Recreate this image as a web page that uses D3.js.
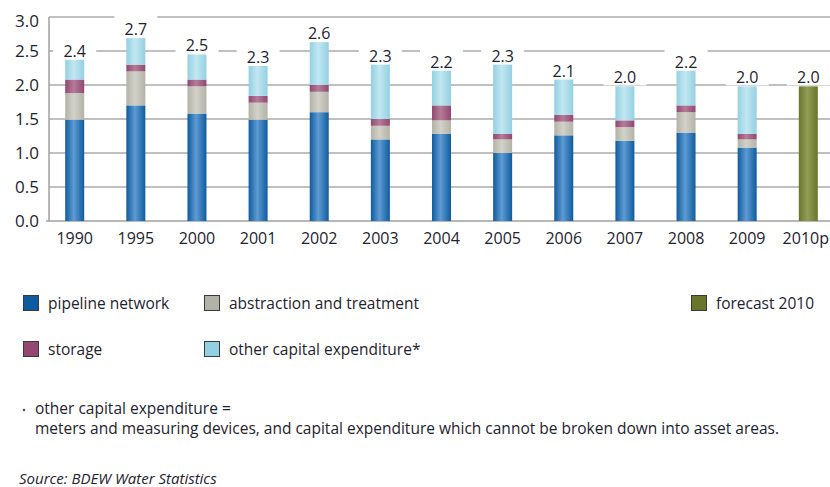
<!DOCTYPE html>
<html>
<head>
<meta charset="utf-8">
<title>Capital expenditure</title>
<script src="https://d3js.org/d3.v7.min.js"></script>
<style>
  body { margin: 0; background: #fff; }
  text { font-family: "Open Sans", sans-serif; fill: #1e2330; }
</style>
</head>
<body>
<svg id="chart" width="830" height="487"></svg>
<script>
// data (bn EUR)
var years = ["1990","1995","2000","2001","2002","2003","2004","2005","2006","2007","2008","2009","2010p"];
var pipeline    = [1.49, 1.70, 1.58, 1.49, 1.60, 1.20, 1.28, 1.00, 1.26, 1.18, 1.30, 1.08, 0];
var abstraction = [0.39, 0.50, 0.40, 0.25, 0.30, 0.20, 0.20, 0.20, 0.20, 0.20, 0.30, 0.12, 0];
var storage     = [0.20, 0.10, 0.10, 0.10, 0.10, 0.10, 0.22, 0.08, 0.10, 0.10, 0.10, 0.08, 0];
var other       = [0.29, 0.39, 0.37, 0.44, 0.63, 0.80, 0.51, 1.02, 0.52, 0.50, 0.51, 0.70, 0];
var forecast    = [0, 0, 0, 0, 0, 0, 0, 0, 0, 0, 0, 0, 1.98];
var totalLabels = ["2.4","2.7","2.5","2.3","2.6","2.3","2.2","2.3","2.1","2.0","2.2","2.0","2.0"];
var yTicks = [0, 0.5, 1, 1.5, 2, 2.5, 3];

var seriesNames = ["pipeline network", "abstraction and treatment", "storage", "other capital expenditure*", "forecast 2010"];
var seriesKeys = ["pipeline", "abstraction", "storage", "other", "forecast"];
var colors = {
  pipeline:    ["#0f5b9f", "#5e9bd2"],
  abstraction: ["#b3b2a6", "#d3d2ca"],
  storage:     ["#924870", "#b47c98"],
  other:       ["#93d0e2", "#c2e7f1"],
  forecast:    ["#68752b", "#929e58"]
};

var svg = d3.select("#chart");

var x = d3.scalePoint().domain(years).range([74.7, 808.3]);
var y = d3.scaleLinear().domain([0, 3]).range([221, 17]);
var barW = 19;

// cylinder-ish gradients
var defs = svg.append("defs");
seriesKeys.forEach(function(k) {
  var g = defs.append("linearGradient").attr("id", "g-" + k)
    .attr("x1", "0%").attr("x2", "100%").attr("y1", "0%").attr("y2", "0%");
  g.append("stop").attr("offset", "0%").attr("stop-color", colors[k][0]);
  g.append("stop").attr("offset", "45%").attr("stop-color", colors[k][1]);
  g.append("stop").attr("offset", "100%").attr("stop-color", colors[k][0]);
});

var rows = years.map(function(yr, i) {
  return { year: yr, pipeline: pipeline[i], abstraction: abstraction[i], storage: storage[i],
           other: other[i], forecast: forecast[i], label: totalLabels[i] };
});

// gridlines
svg.append("g").selectAll("line")
  .data(yTicks.slice(1))
  .enter().append("line")
    .attr("x1", 49).attr("x2", 830)
    .attr("y1", function(d) { return y(d); })
    .attr("y2", function(d) { return y(d); })
    .attr("stroke", "#ababab").attr("stroke-width", 1.3);

// axis lines
svg.append("line").attr("x1", 49).attr("x2", 49).attr("y1", y(3)).attr("y2", y(0))
  .attr("stroke", "#a0a0a0").attr("stroke-width", 1.5);
svg.append("line").attr("x1", 46).attr("x2", 830).attr("y1", y(0)).attr("y2", y(0))
  .attr("stroke", "#a0a0a0").attr("stroke-width", 1.5);

// y tick labels
svg.append("g").selectAll("text")
  .data(yTicks)
  .enter().append("text")
    .attr("x", 39)
    .attr("y", function(d) { return y(d) + (d === 3 ? 4 : 0); })
    .attr("dy", "0.35em")
    .attr("text-anchor", "end")
    .style("font-size", "17px")
    .style("font-weight", 500)
    .text(function(d) { return d3.format(".1f")(d); });

// stacked bars
var stack = d3.stack().keys(seriesKeys);
var layers = stack(rows);

svg.append("g").selectAll("g")
  .data(layers)
  .enter().append("g")
    .attr("fill", function(d) { return "url(#g-" + d.key + ")"; })
  .selectAll("rect")
  .data(function(d) { return d; })
  .enter().append("rect")
    .attr("x", function(d) { return x(d.data.year) - barW / 2; })
    .attr("width", barW)
    .attr("y", function(d) { return y(d[1]); })
    .attr("height", function(d) { return y(d[0]) - y(d[1]); });

// value labels with white box behind
var totals = rows.map(function(r) { return r.pipeline + r.abstraction + r.storage + r.other + r.forecast; });
var lab = svg.append("g").selectAll("g")
  .data(rows)
  .enter().append("g");
lab.append("rect")
  .attr("x", function(d) { return x(d.year) - 21.5; })
  .attr("width", 43)
  .attr("y", function(d, i) { return y(totals[i]) - 23; })
  .attr("height", 22)
  .attr("fill", "#fff");
lab.append("text")
  .attr("x", function(d) { return x(d.year); })
  .attr("y", function(d, i) { return y(totals[i]) - 3; })
  .attr("text-anchor", "middle")
  .style("font-size", "16px")
  .style("font-weight", 500)
  .text(function(d) { return d.label; });

// x labels (last one kept inside the frame)
svg.append("g").selectAll("text")
  .data(years)
  .enter().append("text")
    .attr("x", function(d, i) { return i === years.length - 1 ? 829 : x(d); })
    .attr("y", 244)
    .attr("text-anchor", function(d, i) { return i === years.length - 1 ? "end" : "middle"; })
    .style("font-size", "16px")
    .style("font-weight", 500)
    .text(function(d) { return d; });

// legend
var legendPos = [[23, 295], [204, 295], [23, 341], [204, 341], [691, 295]];
var leg = svg.append("g").selectAll("g")
  .data(seriesKeys)
  .enter().append("g")
    .attr("transform", function(d, i) { return "translate(" + legendPos[i][0] + "," + legendPos[i][1] + ")"; });
leg.append("rect")
  .attr("x", 0.5).attr("y", 0.5).attr("width", 15).attr("height", 15)
  .attr("fill", function(d) { return colors[d][0]; })
  .attr("stroke", "#3a3a3a").attr("stroke-width", 1);
leg.append("text")
  .attr("x", 25).attr("y", 14)
  .style("font-size", "15.5px")
  .text(function(d, i) { return seriesNames[i]; });

// footnote + source
svg.append("circle").attr("cx", 24).attr("cy", 410).attr("r", 1.3).attr("fill", "#555");
svg.append("text").attr("x", 35).attr("y", 414).style("font-size", "15.5px")
  .text("other capital expenditure =");
svg.append("text").attr("x", 35).attr("y", 434).style("font-size", "15.5px")
  .text("meters and measuring devices, and capital expenditure which cannot be broken down into asset areas.");
svg.append("text").attr("x", 19).attr("y", 484).style("font-size", "15px").style("font-style", "italic")
  .text("Source: BDEW Water Statistics");
</script>
</body>
</html>
